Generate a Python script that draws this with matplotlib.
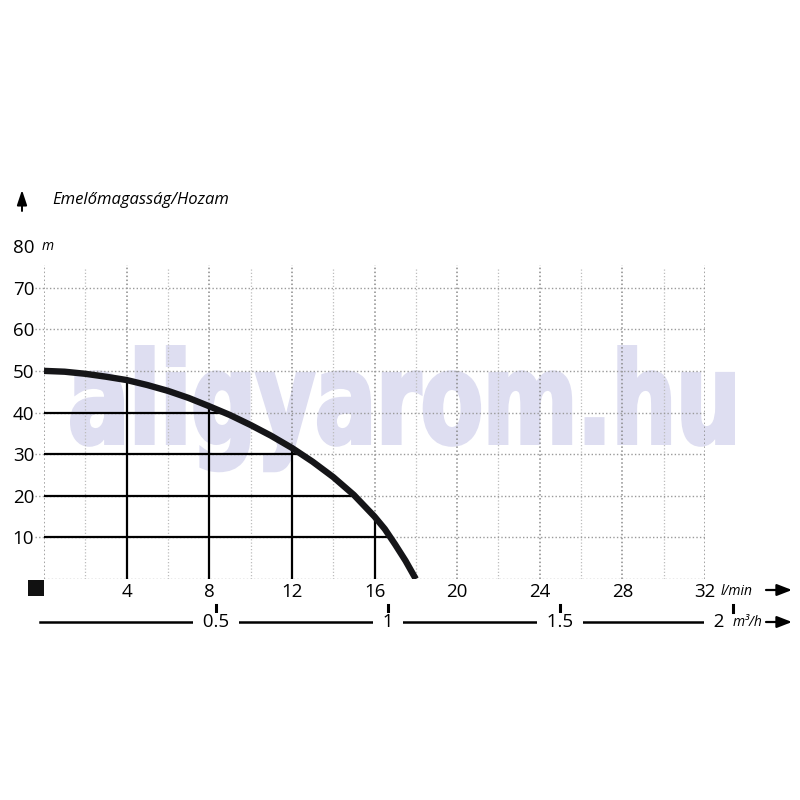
import numpy as np
import matplotlib

matplotlib.use("Agg")
import matplotlib.pyplot as plt
from matplotlib.transforms import Affine2D, blended_transform_factory
from matplotlib.textpath import TextPath
from matplotlib.patches import PathPatch, Rectangle
from matplotlib.font_manager import FontProperties
from matplotlib.lines import Line2D

plt.rcParams["font.family"] = ["Open Sans", "DejaVu Sans"]

# ---------------------------------------------------------------------------
# Data
# ---------------------------------------------------------------------------
flow_lpm = [0, 1, 2, 3, 4, 5, 6, 7, 8, 9, 10, 11, 12, 13, 14, 15, 16, 16.5, 17, 17.5, 18]
head_m = [50, 49.8, 49.3, 48.6, 47.8, 46.6, 45.2, 43.5, 41.5, 39.4, 37.0, 34.4,
          31.5, 28.2, 24.5, 20.2, 15.0, 12.0, 8.3, 4.4, 0]

x_ticks = [4, 8, 12, 16, 20, 24, 28, 32]          # l/min
y_ticks = [10, 20, 30, 40, 50, 60, 70, 80]        # m
m3h_ticks = [0.5, 1, 1.5, 2]                      # m3/h
m3h_labels = ["0.5", "1", "1.5", "2"]
ref_flows = [4, 8, 12, 16]                        # solid verticals
ref_heads = [10, 20, 30, 40]                      # solid horizontals

title = "Emelőmagasság/Hozam"
watermark = "aligyarom.hu"

W = H = 800
fig = plt.figure(figsize=(8, 8), dpi=100)
ax = fig.add_axes([44 / W, 1 - 579 / H, 661 / W, 333 / H])
ax.set_facecolor("none")
ax.set_xlim(0, 32)
ax.set_ylim(0, 80)
for s in ax.spines.values():
    s.set_visible(False)

# --- watermark (stretched, stroked text path, behind the axes) ------------
fp = FontProperties(family="DejaVu Sans", weight="bold")
tp = TextPath((0, 0), watermark, size=1, prop=fp)
ext = tp.get_extents()
grow = 2  # px added on each side by the stroke
sx = (735 - 70 - 2 * grow) / (ext.x1 - ext.x0)
sy = (445 - 345 - 2 * grow) / ext.y1
trf = (Affine2D().translate(-ext.x0, 0).scale(sx, sy)
       .translate(70 + grow, H - 445 + grow)
       .scale(1 / W, 1 / H) + fig.transFigure)
fig.add_artist(PathPatch(tp, transform=trf, facecolor="#dedef1",
                         edgecolor="#dedef1", lw=2 * grow * 0.72,
                         joinstyle="miter", zorder=-1))

# --- dotted grid ----------------------------------------------------------
dots = (0, (1, 1.6))
minor_x = np.arange(2, 32, 4)
major_x = np.arange(0, 33, 4)
ax.vlines(minor_x, 0, 75, colors="#bdbdbd", linestyles=dots, lw=0.9, zorder=1)
ax.vlines(major_x, 0, 75.5, colors="#8a8a8a", linestyles=dots, lw=1.1, zorder=1)
ax.hlines(np.arange(10, 71, 10), -0.45, 32, colors="#9a9a9a", linestyles=dots,
          lw=1.0, zorder=1, clip_on=False)
ax.hlines(0, 0, 32, colors="#9a9a9a", linestyles=dots, lw=1.0, zorder=1)

# --- solid reference lines up to the curve --------------------------------
flow = np.array(flow_lpm)
head = np.array(head_m)
for q in ref_flows:
    ax.plot([q, q], [0, np.interp(q, flow, head)], color="black", lw=1.6,
            solid_capstyle="butt", zorder=2)
for h in ref_heads:
    ax.plot([0, np.interp(h, head[::-1], flow[::-1])], [h, h], color="black",
            lw=1.6, solid_capstyle="butt", zorder=2)

# --- pump curve -----------------------------------------------------------
ax.plot(flow, head, color="#151518", lw=4.6, solid_capstyle="butt",
        solid_joinstyle="round", zorder=3)

# --- tick labels ----------------------------------------------------------
ax.set_xticks(x_ticks)
ax.set_xticklabels([str(v) for v in x_ticks], fontsize=13.5)
ax.set_yticks(y_ticks)
ax.set_yticklabels([str(v) for v in y_ticks], fontsize=13.5)
ax.tick_params(length=0)
ax.tick_params(axis="x", pad=3)
ax.tick_params(axis="y", pad=7)

ax.text(32.75, -3.0, "l/min", fontsize=10, style="italic", va="center", ha="left")
ax.text(-0.1, 80, "m", fontsize=10, style="italic", va="center", ha="left")

# --- second flow scale in m3/h --------------------------------------------
btr = blended_transform_factory(ax.transData, fig.transFigure)
y_row = 1 - 622 / H
ax.add_line(Line2D([-0.2, 32.6], [y_row, y_row], transform=btr, color="black",
                   lw=1.8, clip_on=False))
for i, (v, lab) in enumerate(zip(m3h_ticks, m3h_labels)):
    q = v * 1000 / 60
    ax.add_line(Line2D([q, q], [1 - 605 / H, 1 - 612 / H], transform=btr,
                       color="black", lw=2.2, clip_on=False))
    last = i == len(m3h_ticks) - 1
    ax.text(q - (0.75 if last else 0), y_row, "  " + lab + (" " if last else "  "),
            transform=btr, fontsize=13.5, ha="center", va="center", clip_on=False,
            bbox=dict(facecolor="white", edgecolor="none", boxstyle="square,pad=0"))
ax.text(733 / W, y_row - 0.001, "m³/h", transform=fig.transFigure, fontsize=10,
        style="italic", ha="left", va="center")

# --- arrows ---------------------------------------------------------------
arrow = dict(arrowstyle="-|>,head_length=0.9,head_width=0.35", color="black",
             lw=1.6, shrinkA=0, shrinkB=0)
for yp in (590, 622):
    ax.annotate("", xy=(792 / W, 1 - yp / H), xytext=(766 / W, 1 - yp / H),
                xycoords="figure fraction", textcoords="figure fraction",
                arrowprops=arrow)
ax.annotate("", xy=(22 / W, 1 - 190 / H), xytext=(22 / W, 1 - 211 / H),
            xycoords="figure fraction", textcoords="figure fraction",
            arrowprops=dict(arrowstyle="-|>,head_length=0.9,head_width=0.3",
                            color="black", lw=1.4, shrinkA=0, shrinkB=0))
fig.text(52 / W, 1 - 200 / H, title, fontsize=12, style="italic", va="center",
         ha="left")

# small black square at the origin
fig.add_artist(Rectangle((28 / W, 1 - 596 / H), 16 / W, 16 / H,
                         transform=fig.transFigure, facecolor="#111111",
                         edgecolor="none"))

fig.savefig("out.png", dpi=100)
